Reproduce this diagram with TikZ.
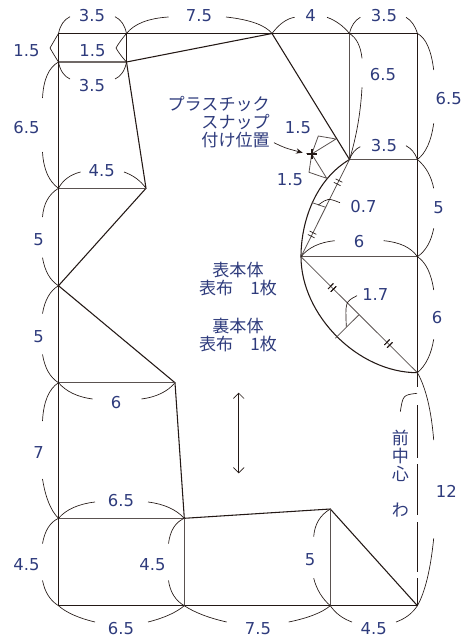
\documentclass[tikz,border=0pt]{standalone}
\usepackage{fontspec}
\setmainfont{DejaVu Sans}
\newfontfamily\jpfont{Noto Sans CJK JP}
\usetikzlibrary{calc,arrows.meta}
\definecolor{inkline}{HTML}{231815}
\definecolor{inktext}{HTML}{2E3B7C}
\tikzset{
	patline/.style={draw=inkline, line width=0.8pt},
	lightline/.style={draw=inkline!75, line width=0.6pt},
	dimline/.style={draw=inkline, line width=0.5pt},
	dimlabel/.style={inktext, font=\fontsize{12.3}{14}\selectfont, inner sep=0pt},
	jplabel/.style={inktext, font=\jpfont\fontsize{12.8}{13.5}\selectfont, inner sep=0pt},
}
\newcommand{\tickpair}[3]{%
	\draw[dimline] ($(#1)!#3!(#2)!2.8pt!90:(#2)$) -- ($(#1)!#3!(#2)!2.8pt!-90:(#2)$);}
\begin{document}
\begin{tikzpicture}[x=0.75pt, y=-0.75pt]
	\useasboundingbox (0,0) rectangle (464,638);
	% corners of the pattern
	\foreach \pname/\px/\py in {
		topL/58.5/33.5, topB/126.5/33.5, topC/272/33.5, topD/349.5/33.5, topR/417.4/33.5,
		midL/58.5/62, midB/126.5/62,
		armL/58.5/188.3, armB/146/188.3, neckL/58.5/285.7,
		sideL/58.5/382.7, sideR/175/382.7,
		lowL/58.5/518.3, lowR/184.3/518.3, tipN/330.3/509,
		botL/58.5/605.7, botM/184.3/605.7, botN/330.3/605.7, botR/417.4/605.7,
		curveT/349.5/159.5, edgeT/417.4/159.5,
		curveM/301/256.7, edgeM/417.4/256.7, curveB/417.4/372.7,
		snapA/336/139, snapB/318.3/136, snapC/311.7/154, snapD/309/172.3, snapE/326.7/178.3,
		depthA/312.3/202.7, depthB/325.7/207.3, depthC/335.3/338.3, depthD/358.7/315}
		\coordinate (\pname) at (\px,\py);
	% outline
	\draw[patline] (topL) -- (topR) -- (curveB);
	\draw[patline] (topL) -- (botL) -- (botR);
	\draw[patline] (midL) -- (midB) -- (topC) -- (curveT);
	\draw[patline] (midB) -- (armB) -- (neckL) -- (sideR) -- (lowR) -- (tipN) -- (botR);
	\draw[patline] (topB) -- (midB);
	\draw[patline] (curveT) .. controls (315,180) and (301,222) .. (curveM)
		.. controls (301,315) and (358,372.7) .. (curveB);
	% guide lines
	\draw[lightline] (armL) -- (armB);
	\draw[lightline] (sideL) -- (sideR);
	\draw[lightline] (lowL) -- (lowR) -- (botM);
	\draw[lightline] (tipN) -- (botN);
	\draw[lightline] (topD) -- (curveT) -- (edgeT);
	\draw[lightline] (curveM) -- (edgeM);
	\draw[lightline] (curveT) -- (curveM) -- (curveB);
	\draw[lightline] (depthA) -- (depthB);
	\draw[lightline] (depthC) -- (depthD);
	\draw[lightline] (snapA) -- (snapB) -- (snapC) -- (snapD) -- (snapE) -- (snapC) -- (snapA);
	% centre fold
	\foreach \fa/\fb in {372.7/387, 405/458, 464/515, 522/572, 578/605.7}
		\draw[patline] (417.4,\fa) -- (417.4,\fb);
	% tick pairs on the chords
	\foreach \tp in {.217,.253,.753,.789}
		\tickpair{curveT}{curveM}{\tp}
	\foreach \tp in {.255,.279,.738,.762}
		\tickpair{curveM}{curveB}{\tp}
	% snap mark
	\draw[inkline, line width=1.2pt] (306.7,154) -- (316.7,154);
	\draw[inkline, line width=1.2pt] (311.7,149) -- (311.7,159);
	\draw[dimline, -{Stealth[length=5pt,width=4pt]}] (274,142.7) .. controls (285,148) .. (302.7,152.7);
	% grain line
	\draw[dimline, {Straight Barb[length=4pt,width=8pt]}-{Straight Barb[length=4pt,width=8pt]}]
		(238.7,392.7) -- (238.7,473.3);
	% measure arcs
	\foreach \pname/\cx/\cy/\ex/\ey in {
		topL/61/21/70/16.7, topB/124/21/115/16.7,
		topB/138/19/168.5/17, topC/262/21/226/17,
		topC/283/19/294.7/17.3, topD/340/22/327/17.3,
		topD/352/22/360.3/17.3, topR/414/22/406/17.3,
		topL/54/41/50/48, midL/54/55/50/48,
		topB/120/41/116/48, midB/120/55/116/48,
		midL/61/75/70/79, midB/124/75/115/79,
		midL/44/70/42.5/98, armL/44/178/42.5/152,
		armL/65/176/80.5/172, armB/138/177/124/172,
		armL/44/197/42.5/217, neckL/46/278/42.5/257.7,
		neckL/46/293/42.5/313.5, sideL/46/375/42.5/354.5,
		sideL/70/396/92.5/399, sideR/164/396/141.5/399,
		sideL/44/392/42.5/421, lowL/47/507/42.5/479,
		lowL/46/524/42.5/543.5, botL/46/598/42.5/580.5,
		lowL/70/505/95/502, lowR/172/505/148/502,
		lowR/171/524/168.5/543.5, botM/171/598/168.5/580.5,
		botL/70/616/95/622, botM/172/616/148/622,
		botM/200/616/226.7/622, botN/318/616/288.7/622,
		botN/338/617/352/622, botR/410/617/396/622,
		tipN/315/518/313.7/536.7, botN/318/595/313.7/578.3,
		curveB/430/395/433.7/440, botR/429/585/433.7/538.3,
		topR/430/40/433.7/70, edgeT/430/150/433.7/123.3,
		topD/360/40/362/58.3, curveT/360/125/362/87.3,
		curveT/353/150/360.3/146.7, edgeT/414/150/406/145.7,
		edgeT/430/170/433.7/188.3, edgeM/430/248/433.7/228.3,
		curveM/312/243/334.7/240.7, edgeM/408/243/383.7/240.7,
		edgeM/430/265/433.7/290, curveB/430/362/433.7/339.3}
		\draw[dimline] (\pname) .. controls ($(\pname)!.667!(\cx,\cy)$) and ($(\ex,\ey)!.667!(\cx,\cy)$) .. (\ex,\ey);
	\draw[dimline] (400.3,411.7) .. controls (403,395) .. (417,393.3);
	\draw[dimline] (318.3,205) .. controls (328,198) .. (340,202.7);
	\draw[dimline] (346.3,326.7) .. controls (345.3,301.7) .. (357,295.7);
	% measures
	\foreach \lx/\ly/\ltxt [count=\i] in {
		92/16/3.5, 199/16/7.5, 310.5/16/4, 384/16/3.5,
		26.5/51/1.5, 92.5/51/1.5, 92/86/3.5, 26.5/128/6.5,
		383/74.7/6.5, 448.7/98.7/6.5, 101.7/171/4.5, 384/146/3.5,
		298/128/1.5, 290/180/1.5, 363.5/207/0.7, 438.7/208/5,
		38.5/240/5, 359/242/6, 375.3/295/1.7, 437/318/6,
		38.5/337/5, 116/403/6, 38.5/453/7, 446.3/491.7/12,
		121/501/6.5, 310/560/5, 26.5/565/4.5, 152.5/565/4.5,
		121/629/6.5, 258/629/7.5, 373.7/629/4.5}
		\node[dimlabel] (dim\i) at (\lx,\ly) {\ltxt};
	% texts
	\node[jplabel, align=right, anchor=east] (snaptext) at (270,122) {プラスチック\\スナップ\\付け位置};
	\node[jplabel, align=center] (fronttext) at (238,279) {表本体\\表布　1枚};
	\node[jplabel, align=center] (backtext) at (238,335.5) {裏本体\\表布　1枚};
	\node[jplabel, align=center] (foldtext) at (400.3,474) {前\\中\\心\\\mbox{}\\わ};
\end{tikzpicture}
\end{document}
